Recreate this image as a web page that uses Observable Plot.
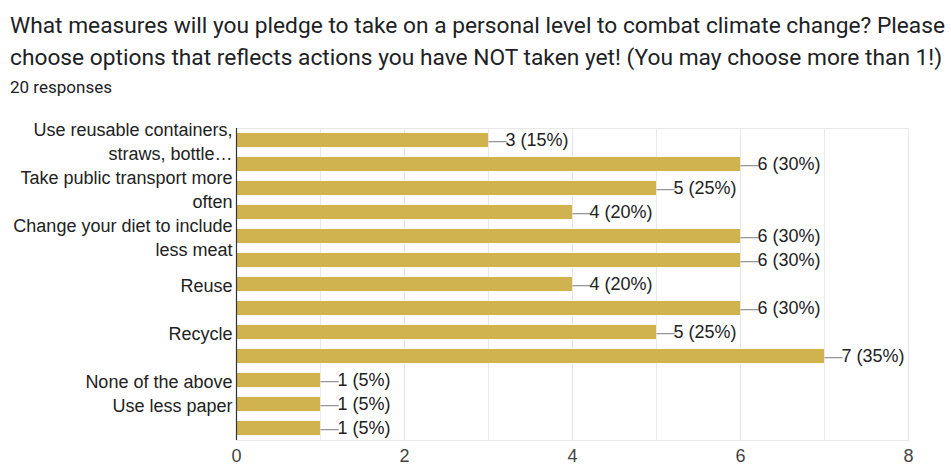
<!DOCTYPE html>
<html><head><meta charset="utf-8">
<script src="https://cdn.jsdelivr.net/npm/d3@7"></script>
<script src="https://cdn.jsdelivr.net/npm/@observablehq/plot@0.6"></script>
<style>
body{margin:0;background:#fff;width:951px;height:467px;overflow:hidden;position:relative}
#title{position:absolute;left:10px;top:10px;font-family:Roboto,sans-serif;font-size:22px;line-height:32px;color:#202124;white-space:nowrap;transform-origin:0 0}
#sub{position:absolute;left:10px;top:79px;font-family:Roboto,sans-serif;font-size:16px;line-height:18px;color:#202124;white-space:nowrap;transform-origin:0 0}
#chart{position:absolute;left:0;top:110px}
</style></head><body>
<div id="title"><div id="l1">What measures will you pledge to take on a personal level to combat climate change? Please</div><div id="l2">choose options that reflects actions you have NOT taken yet! (You may choose more than 1!)</div></div>
<div id="sub">20 responses</div>
<div id="chart"></div>
<script>
const categories = ["Use reusable containers, straws, bottles", "Option 2", "Take public transport more often", "Option 4", "Change your diet to include less meat", "Option 6", "Reuse", "Option 8", "Recycle", "Option 10", "None of the above", "Use less paper", "Option 13"];
const tickLabels = ["Use reusable containers,\nstraws, bottle…", "", "Take public transport more\noften", "", "Change your diet to include\nless meat", "", "Reuse", "", "Recycle", "", "None of the above", "Use less paper", ""];
const counts = [3, 6, 5, 4, 6, 6, 4, 6, 5, 7, 1, 1, 1];
const totalResponses = 20;
const xTicks = [0, 2, 4, 6, 8];
const gridTicks = [1, 2, 3, 4, 5, 6, 7, 8];

const data = categories.map((c, i) => ({id: c, label: tickLabels[i], v: counts[i], txt: `${counts[i]} (${Math.round(counts[i] / totalResponses * 100)}%)`}));

const t = document.getElementById("title");
const w = document.getElementById("l1").getBoundingClientRect().width;
t.style.transform = `scaleX(${935 / w})`;
const s = document.getElementById("sub");
const ws = s.getBoundingClientRect().width;
s.style.transform = `scaleX(${102 / ws})`;

const font = "Arial, 'Liberation Sans', sans-serif";
const chart = Plot.plot({
  width: 951,
  height: 357,
  marginLeft: 236,
  marginRight: 43,
  marginTop: 18,
  marginBottom: 27,
  style: {fontFamily: font, fontSize: "18px", background: "#fff"},
  x: {domain: [0, 8], axis: null},
  y: {domain: categories, paddingInner: 0.42, paddingOuter: 0.21, axis: null},
  marks: [
    Plot.gridX(gridTicks, {stroke: "#e8e8e8", strokeOpacity: 1}),
    Plot.frame({stroke: "#e8e8e8"}),
    Plot.barX(data, {x: "v", y: "id", fill: "#d0b24f"}),
    Plot.ruleX([0], {stroke: "#333", strokeWidth: 1.2}),
    Plot.text(data, {x: "v", y: "id", text: () => "—", textAnchor: "start", fill: "#999", fontSize: 18}),
    Plot.text(data, {x: "v", y: "id", text: "txt", textAnchor: "start", dx: 17, fill: "#222", fontSize: 18}),
    Plot.text(data, {frameAnchor: "left", y: "id", text: "label", textAnchor: "end", dx: -4, lineHeight: 1.333, fill: "#222", fontSize: 18}),
    Plot.axisX(xTicks, {anchor: "bottom", tickSize: 0, tickPadding: 9, fontSize: 18, fill: "#444", label: null})
  ]
});
document.getElementById("chart").appendChild(chart);
</script>
</body></html>
